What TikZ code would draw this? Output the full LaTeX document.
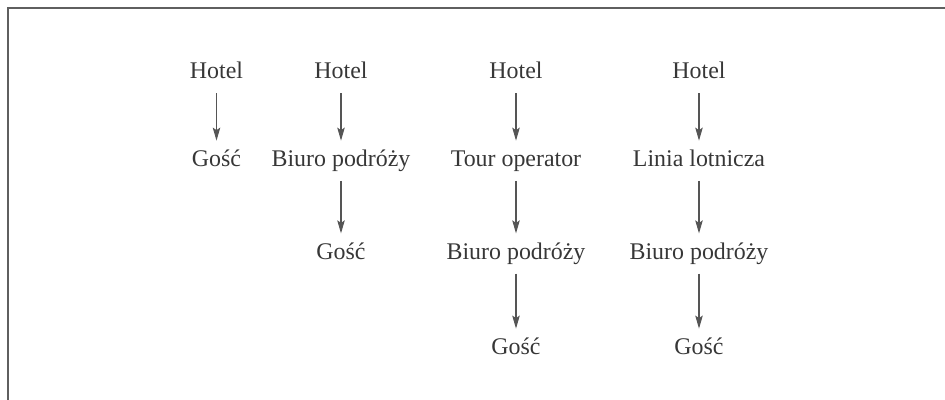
\documentclass[tikz,border=0pt]{standalone}
\usepackage{fontspec}
\setmainfont{Liberation Serif}
\usepackage{tikz}
\usetikzlibrary{arrows.meta, positioning}
\definecolor{labelgray}{RGB}{55, 55, 55}
\definecolor{arrowgray}{RGB}{85, 85, 85}
\definecolor{framegray}{RGB}{95, 95, 95}

\begin{document}
\begin{tikzpicture}[
    node distance=0.95cm,
    >={Stealth[length=2.6mm, width=1.5mm, inset=0.5mm]},
    chainbox/.style={inner xsep=0pt, inner ysep=5pt, text height=9.5pt, text depth=3pt, font=\fontsize{13.6}{16}\selectfont, text=labelgray},
    flow/.style={->, arrowgray, line width=0.6pt},
]
    \useasboundingbox (0,0) rectangle (18.9,-8);
    \draw[framegray, line width=1.1pt] (0.16,-8) -- (0.16,-0.16) -- (18.9,-0.16);

    % top row
    \node[chainbox] (h1) at (4.33,-1.46) {Hotel};
    \node[chainbox] (h2) at (6.82,-1.46) {Hotel};
    \node[chainbox] (h3) at (10.32,-1.46) {Hotel};
    \node[chainbox] (h4) at (13.98,-1.46) {Hotel};

    \node[chainbox, below=0.95cm of h1] (g1) {Gość};

    \node[chainbox, below=0.95cm of h2] (b2) {Biuro podróży};
    \node[chainbox, below=1.05cm of b2] (g2) {Gość};

    \node[chainbox, below=0.95cm of h3] (t3) {Tour operator};
    \node[chainbox, below=1.05cm of t3] (b3) {Biuro podróży};
    \node[chainbox, below=1.1cm of b3] (g3) {Gość};

    \node[chainbox, below=0.95cm of h4] (l4) {Linia lotnicza};
    \node[chainbox, below=1.05cm of l4] (b4) {Biuro podróży};
    \node[chainbox, below=1.1cm of b4] (g4) {Gość};

    \draw[flow] (h1) -- (g1);

    \draw[flow] (h2) -- (b2);
    \draw[flow] (b2) -- (g2);

    \draw[flow] (h3) -- (t3);
    \draw[flow] (t3) -- (b3);
    \draw[flow] (b3) -- (g3);

    \draw[flow] (h4) -- (l4);
    \draw[flow] (l4) -- (b4);
    \draw[flow] (b4) -- (g4);
\end{tikzpicture}
\end{document}
